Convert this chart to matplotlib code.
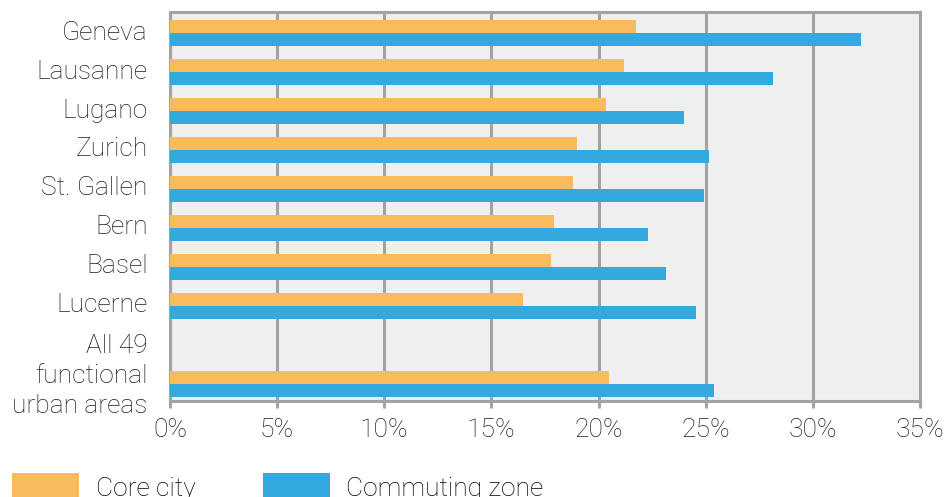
import matplotlib
matplotlib.use('Agg')
import matplotlib.pyplot as plt
import matplotlib.transforms as mtransforms
import numpy as np

plt.rcParams['font.family'] = ['Roboto', 'DejaVu Sans']
plt.rcParams['font.weight'] = 'light'

areas = ['Geneva', 'Lausanne', 'Lugano', 'Zurich', 'St. Gallen', 'Bern', 'Basel', 'Lucerne',
         'All 49\nfunctional\nurban areas']
core_city = [21.75, 21.2, 20.35, 18.98, 18.82, 17.9, 17.8, 16.49, 20.5]
commuting_zone = [32.25, 28.15, 24.0, 25.15, 24.92, 22.32, 23.15, 24.56, 25.4]
series_names = ['Core city', 'Commuting zone']
xticks = [0, 5, 10, 15, 20, 25, 30, 35]

orange = '#FABB5D'
blue = '#33A9E0'
grey = '#A3A3A3'
fs = 19

# the "all areas" row sits one slot lower than the cities
pos = np.array(list(range(8)) + [9])
h = 0.34

fig = plt.figure(figsize=(9.44, 4.97), dpi=100)
ax = fig.add_axes([170 / 944, 1 - 401 / 497, 750 / 944, 389 / 497])
ax.set_facecolor('#EFEFEF')

b1 = ax.barh(pos - h / 2, core_city, height=h, color=orange, label=series_names[0], zorder=3)
b2 = ax.barh(pos + h / 2, commuting_zone, height=h, color=blue, label=series_names[1], zorder=3)

ax.set_xlim(0, 35)
ax.set_ylim(9.44, -0.54)
ax.set_xticks(xticks)
ax.set_xticklabels([f'{t}%' for t in xticks], fontsize=fs)
ax.set_yticks(pos)
ax.set_yticklabels(areas, fontsize=fs, linespacing=1.32)

ax.grid(axis='x', color=grey, linewidth=2.2, zorder=1)
for s in ax.spines.values():
    s.set_color(grey)
    s.set_linewidth(2.2)
ax.tick_params(axis='x', length=5, width=2.2, color=grey, pad=7, labelcolor='#1e1e1e')
ax.tick_params(axis='y', length=0, pad=16, labelcolor='#1e1e1e')

# city labels sit slightly above the bar pair, the long label a bit more
for i, lab in enumerate(ax.get_yticklabels()):
    dy = 13 if i == len(areas) - 1 else 3
    lab.set_transform(lab.get_transform() + mtransforms.ScaledTranslation(0, dy / 100, fig.dpi_scale_trans))

fig.legend(handles=[b1, b2], loc='upper left', bbox_to_anchor=(12 / 944, 1 - 473 / 497),
           ncol=2, frameon=False, fontsize=fs, handlelength=2.55, handleheight=1.3,
           handletextpad=0.62, columnspacing=2.55, borderpad=0, borderaxespad=0)

fig.savefig('out.png', dpi=100)
